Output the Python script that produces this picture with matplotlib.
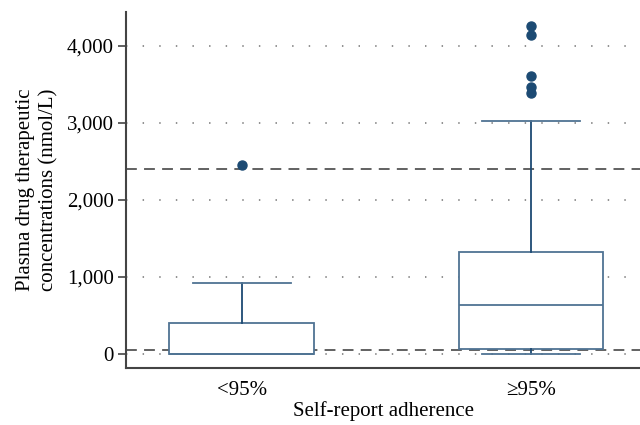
import matplotlib
matplotlib.use('Agg')
import matplotlib.pyplot as plt

# Значения (nmol/L)
groups = ['<95%', '\u226595%']
q1 = [0, 65]
med = [0, 636]
q3 = [405, 1330]
whislo = [0, 0]
whishi = [922, 3030]
fliers = [[2455], [4260, 4143, 3610, 3468, 3390]]
ref_lines = [2400, 50]
yticks = [0, 1000, 2000, 3000, 4000]

plt.rcParams['font.family'] = ['Liberation Serif', 'DejaVu Serif']

fig = plt.figure(figsize=(6.4, 4.25), dpi=100)
ax = fig.add_axes([0.197, 0.134, 0.803, 0.838])

stats = []
for i, g in enumerate(groups):
    stats.append(dict(label=g, q1=q1[i], med=med[i], q3=q3[i],
                      whislo=whislo[i], whishi=whishi[i], fliers=fliers[i]))

# пунктирная сетка
for t in yticks:
    ax.axhline(t, color='#888888', lw=1.3, ls=(0, (0.8, 8.4)), zorder=0)

for r in ref_lines:
    ax.axhline(r, color='#555555', lw=1.3, ls=(0, (6, 4)), zorder=1)

edge = '#4f7393'
dark = '#1c4a73'
ax.bxp(stats, positions=[1, 2], widths=0.5, capwidths=0.34, patch_artist=True,
       boxprops=dict(facecolor='white', edgecolor=edge, lw=1.3),
       medianprops=dict(color=edge, lw=1.3),
       whiskerprops=dict(color=dark, lw=1.3),
       capprops=dict(color=edge, lw=1.3),
       flierprops=dict(marker='o', markersize=6.5, markerfacecolor=dark,
                       markeredgecolor=dark),
       zorder=2)

ax.set_xlim(0.6, 2.377)
ax.set_ylim(-182, 4442)
ax.set_yticks(yticks)
ax.set_yticklabels([f'{t:,}' for t in yticks])
ax.tick_params(axis='y', length=6, width=1.2, color='#444444', labelsize=15, pad=3)
ax.tick_params(axis='x', length=0, labelsize=15, pad=9)

for s in ['top', 'right']:
    ax.spines[s].set_visible(False)
for s in ['left', 'bottom']:
    ax.spines[s].set_color('#444444')
    ax.spines[s].set_linewidth(1.5)

ax.set_ylabel('Plasma drug therapeutic\nconcentrations (nmol/L)', fontsize=15,
              labelpad=6, linespacing=1.3)
ax.set_xlabel('Self-report adherence', fontsize=15, labelpad=1)

fig.savefig('out.png', dpi=100)
